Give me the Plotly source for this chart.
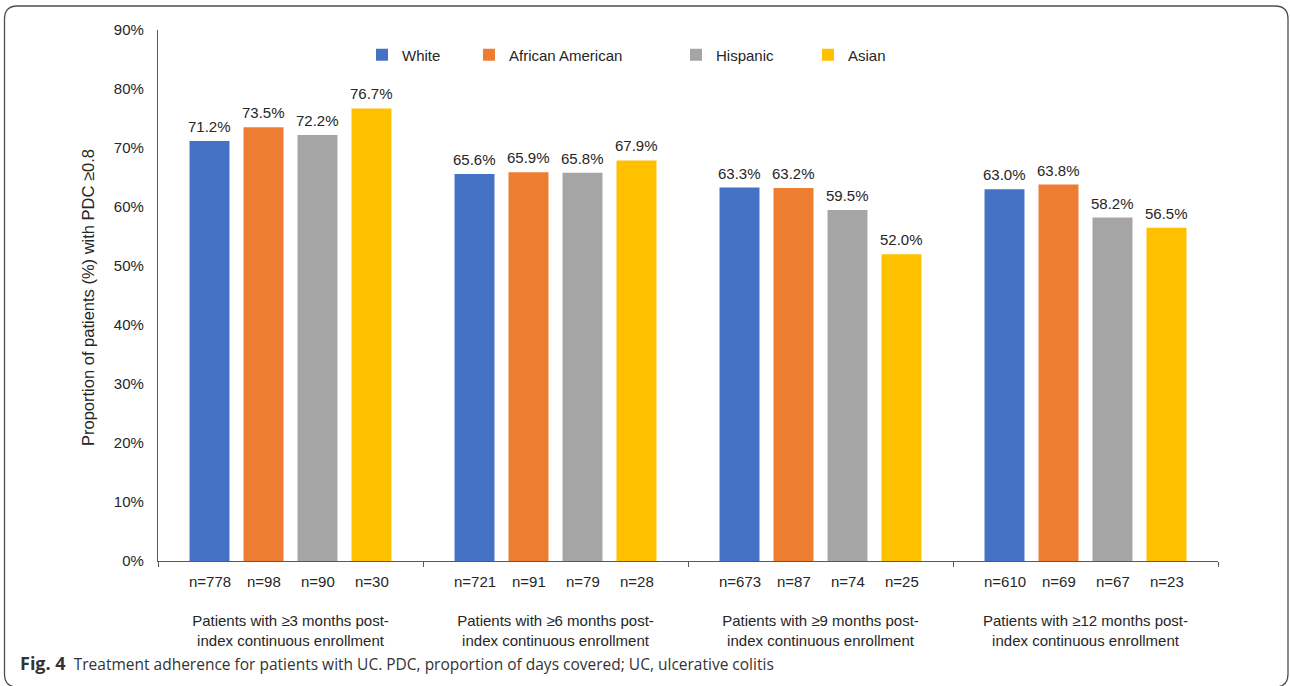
import plotly.graph_objects as go

groups = ["Patients with ≥3 months post-<br>index continuous enrollment",
          "Patients with ≥6 months post-<br>index continuous enrollment",
          "Patients with ≥9 months post-<br>index continuous enrollment",
          "Patients with ≥12 months post-<br>index continuous enrollment"]
series = ["White", "African American", "Hispanic", "Asian"]
colors = ["#4472C4", "#ED7D31", "#A5A5A5", "#FFC000"]
white = [71.2, 65.6, 63.3, 63.0]
african_american = [73.5, 65.9, 63.2, 63.8]
hispanic = [72.2, 65.8, 59.5, 58.2]
asian = [76.7, 67.9, 52.0, 56.5]
values = [white, african_american, hispanic, asian]
n_white = [778, 721, 673, 610]
n_african_american = [98, 91, 87, 69]
n_hispanic = [90, 79, 74, 67]
n_asian = [30, 28, 25, 23]
ns = [n_white, n_african_american, n_hispanic, n_asian]
y_ticks = [0, 10, 20, 30, 40, 50, 60, 70, 80, 90]
y_tick_labels = [f"{v}%" for v in y_ticks]

W, H = 1290, 686
L, R, T, B = 158, 72, 30, 125
pw, ph = W - L - R, H - T - B

def px(X):
    return (X - L) / pw

def py(Y):
    return (H - B - Y) / ph

font = "Liberation Sans, Arial, sans-serif"
txt = "#262626"
fs = 15
pitch = 54

fig = go.Figure()
legend_x = [402, 509, 716, 848]
for i, (name, col, vals) in enumerate(zip(series, colors, values)):
    lg = "legend" if i == 0 else f"legend{i+1}"
    fig.add_trace(go.Bar(x=groups, y=vals, name=name, marker_color=col,
                         marker_line_width=0, legend=lg))

annotations = []
for i in range(4):
    for g, gname in enumerate(groups):
        annotations.append(dict(x=gname, y=values[i][g], xref="x", yref="y",
                                text=f"{values[i][g]:.1f}%", showarrow=False,
                                xshift=(i - 1.5) * pitch, yshift=4, yanchor="bottom",
                                font=dict(family=font, size=fs, color=txt)))
        annotations.append(dict(x=gname, y=0, xref="x", yref="y",
                                text=f"n={ns[i][g]}", showarrow=False,
                                xshift=(i - 1.5) * pitch, yshift=-20, yanchor="middle",
                                font=dict(family=font, size=fs, color=txt)))

annotations.append(dict(x=px(88), y=py(298), xref="paper", yref="paper",
                        text="Proportion of patients (%) with PDC ≥0.8", textangle=-90,
                        showarrow=False, xanchor="center", yanchor="middle",
                        font=dict(family=font, size=16.5, color=txt)))
annotations.append(dict(x=px(18), y=py(663), xref="paper", yref="paper",
                        text="<b><span style='font-size:18px'>Fig. 4</span></b>  Treatment adherence for patients with UC. PDC, proportion of days covered; UC, ulcerative colitis",
                        showarrow=False, xanchor="left", yanchor="middle",
                        font=dict(family="Open Sans, Noto Sans, sans-serif", size=15.5, color="#333333")))

# rounded border
x0, x1, yt, yb = px(4.5), px(1288), py(6), py(687)
rx, ry = 13 / pw, 13 / ph
path = (f"M {x0+rx},{yt} L {x1-rx},{yt} Q {x1},{yt} {x1},{yt-ry} L {x1},{yb+ry} "
        f"Q {x1},{yb} {x1-rx},{yb} L {x0+rx},{yb} Q {x0},{yb} {x0},{yb+ry} "
        f"L {x0},{yt-ry} Q {x0},{yt} {x0+rx},{yt} Z")
shapes = [dict(type="path", path=path, xref="paper", yref="paper",
               line=dict(color="#4d4d4d", width=1.3), layer="above")]

legends = {}
for i, lx in enumerate(legend_x):
    key = "legend" if i == 0 else f"legend{i+1}"
    legends[key] = dict(x=px(lx - 40), y=py(55), xanchor="left", yanchor="middle",
                        orientation="h", bgcolor="rgba(0,0,0,0)",
                        font=dict(family=font, size=fs, color=txt))

fig.update_layout(
    width=W, height=H, margin=dict(l=L, r=R, t=T, b=B),
    paper_bgcolor="white", plot_bgcolor="white",
    barmode="group", bargap=0.185, bargroupgap=0.26,
    showlegend=True, annotations=annotations, shapes=shapes,
    font=dict(family=font, size=fs, color=txt),
    **legends,
)
fig.update_xaxes(type="category", tickvals=groups, ticktext=groups,
                 tickson="boundaries", ticks="outside", ticklen=5, tickcolor="#595959",
                 showline=True, linecolor="#595959", linewidth=1.3,
                 ticklabelstandoff=46, tickfont=dict(family=font, size=fs, color=txt),
                 showgrid=False)
fig.update_yaxes(range=[0, 90], tickvals=y_ticks, ticktext=y_tick_labels,
                 showline=True, linecolor="#595959", linewidth=1.3,
                 showgrid=False, zeroline=False, ticks="", ticklabelstandoff=10,
                 tickfont=dict(family=font, size=fs, color=txt))

fig.write_html("out.html")
